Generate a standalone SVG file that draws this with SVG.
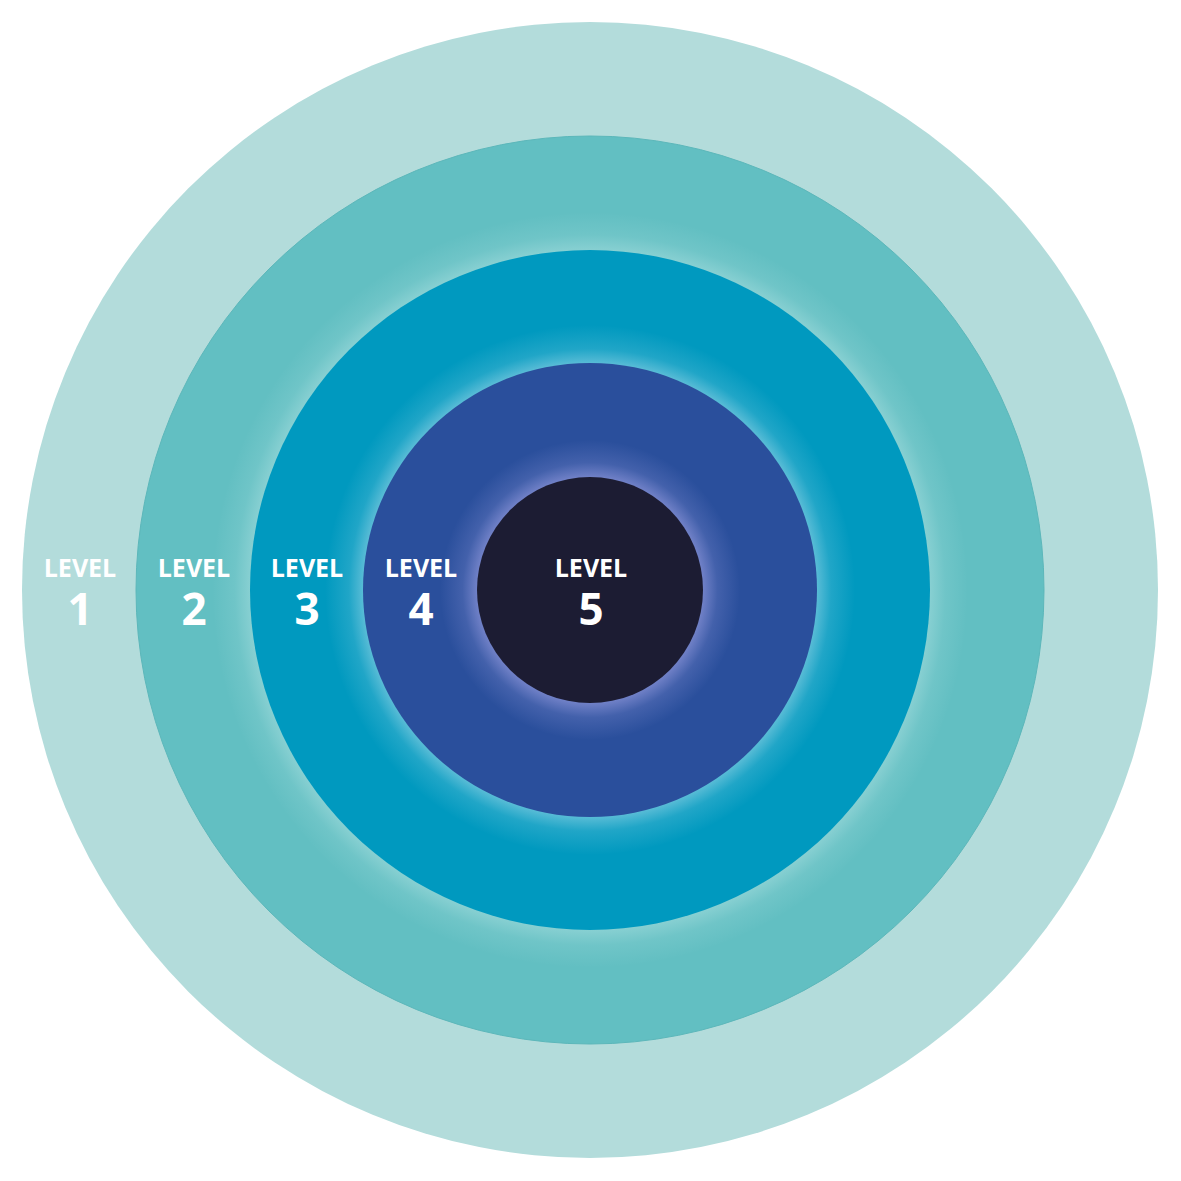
<svg xmlns="http://www.w3.org/2000/svg" width="1181" height="1181" viewBox="0 0 1181 1181">
<defs>
<radialGradient id="g3" gradientUnits="userSpaceOnUse" cx="590" cy="590" r="378">
<stop offset="0.899" stop-color="#e8fbfb" stop-opacity="0.28"/>
<stop offset="0.94" stop-color="#e8fbfb" stop-opacity="0.1"/>
<stop offset="1" stop-color="#e8fbfb" stop-opacity="0"/>
</radialGradient>
<radialGradient id="g4" gradientUnits="userSpaceOnUse" cx="590" cy="590" r="265">
<stop offset="0.857" stop-color="#e6f4fb" stop-opacity="0.38"/>
<stop offset="0.91" stop-color="#e6f4fb" stop-opacity="0.14"/>
<stop offset="1" stop-color="#e6f4fb" stop-opacity="0"/>
</radialGradient>
<radialGradient id="g5" gradientUnits="userSpaceOnUse" cx="590" cy="590" r="150">
<stop offset="0.753" stop-color="#b6b2f2" stop-opacity="0.5"/>
<stop offset="0.85" stop-color="#b6b2f2" stop-opacity="0.18"/>
<stop offset="1" stop-color="#b6b2f2" stop-opacity="0"/>
</radialGradient>
</defs>
<style>
.lbl{font-family:"Open Sans","Liberation Sans",sans-serif;font-weight:bold;fill:#ffffff;text-anchor:middle}
.w{font-size:25px}
.n{font-size:44px}
</style>
<g id="level1">
<circle cx="590" cy="590" r="568" fill="#b3dcdb"/>
</g>
<g id="level2">
<circle cx="590" cy="590" r="454" fill="#62bfc2" stroke="#5cb7ba" stroke-width="1"/>
</g>
<g id="level3">
<circle cx="590" cy="590" r="378" fill="url(#g3)"/>
<circle cx="590" cy="590" r="340" fill="#0099bf"/>
</g>
<g id="level4">
<circle cx="590" cy="590" r="265" fill="url(#g4)"/>
<circle cx="590" cy="590" r="227" fill="#2a4f9c"/>
</g>
<g id="level5">
<circle cx="590" cy="590" r="150" fill="url(#g5)"/>
<circle cx="590" cy="590" r="113" fill="#1c1c33"/>
</g>
<g id="labels">
<text class="lbl"><tspan class="w" x="80" y="577">LEVEL</tspan><tspan class="n" x="80" y="625">1</tspan></text>
<text class="lbl"><tspan class="w" x="194" y="577">LEVEL</tspan><tspan class="n" x="194" y="625">2</tspan></text>
<text class="lbl"><tspan class="w" x="307" y="577">LEVEL</tspan><tspan class="n" x="307" y="625">3</tspan></text>
<text class="lbl"><tspan class="w" x="421" y="577">LEVEL</tspan><tspan class="n" x="421" y="625">4</tspan></text>
<text class="lbl"><tspan class="w" x="591" y="577">LEVEL</tspan><tspan class="n" x="591" y="625">5</tspan></text>
</g>
</svg>
